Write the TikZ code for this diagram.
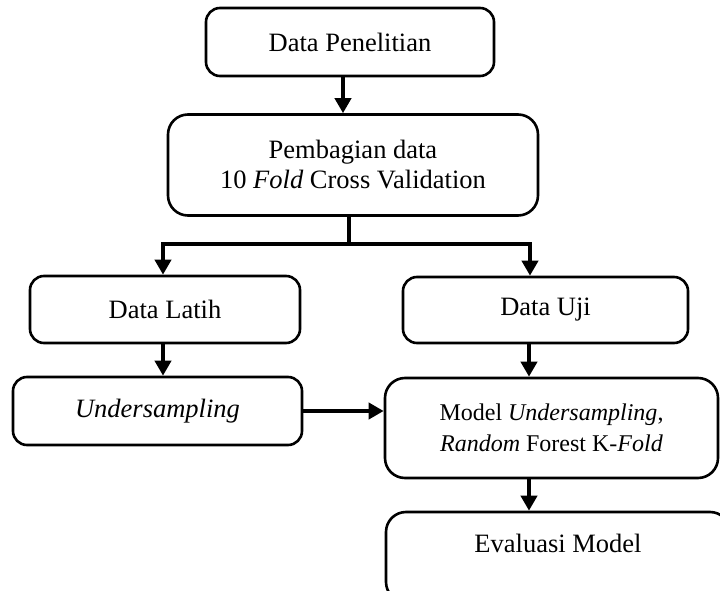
\documentclass[tikz,border=0pt]{standalone}
\usepackage{fontspec}
\setmainfont{Liberation Serif}
\usetikzlibrary{arrows.meta}
\begin{document}
\begin{tikzpicture}[x=1pt,y=-1pt,
  box/.style={draw, line width=2.6pt, rounded corners=14pt, align=center, inner sep=0pt,
    font=\fontsize{26.5}{30}\selectfont},
  bigbox/.style={box, rounded corners=20pt},
  txt/.style={font=\fontsize{26.5}{30}\selectfont, inner sep=0pt},
  arr/.style={line width=4.4pt, -{Triangle[length=15pt,width=16pt]}}]
\clip (0,0) rectangle (720,591);
\node[box, minimum width=288pt, minimum height=68pt] (b1) at (350,42) {Data Penelitian};
\node[bigbox, minimum width=370pt, minimum height=101pt] (b2) at (353,165) {Pembagian data\\10 \textit{Fold} Cross Validation};
\node[box, minimum width=270pt, minimum height=67pt] (b3) at (165,309.5) {Data Latih};
\node[box, minimum width=285pt, minimum height=66pt] (b4) at (545.5,310) {Data Uji};
\node[box, minimum width=289pt, minimum height=68pt] (b5) at (157.5,411) {\textit{Undersampling}};
\node[bigbox, minimum width=333pt, minimum height=100pt, font=\fontsize{24}{31}\selectfont] (b6) at (551.5,428) {Model \textit{Undersampling},\\\textit{Random} Forest K-\textit{Fold}};
\node[bigbox, minimum width=344pt, minimum height=90pt] (b7) at (558,557) {};
\node[txt] (b7t) at (558,543) {Evaluasi Model};
\coordinate (xa) at (343,0);
\coordinate (xs) at (349,0);
\coordinate (jn) at (0,244);
\coordinate (xl) at (163,0);
\coordinate (xr) at (530,0);
\coordinate (xm) at (529,0);
\draw[arr] (b1.south -| xa) -- (b2.north -| xa);
\draw[arr] (b2.south -| xs) -- (xs |- jn) -| (b3.north -| xl);
\draw[arr] (b2.south -| xs) -- (xs |- jn) -| (b4.north -| xr);
\draw[arr] (b3.south -| xl) -- (b5.north -| xl);
\draw[arr] (b4.south -| xm) -- (b6.north -| xm);
\draw[arr] (b5.east) -- (b5.east -| b6.west);
\draw[arr] (b6.south -| xm) -- (b7.north -| xm);
\end{tikzpicture}
\end{document}
